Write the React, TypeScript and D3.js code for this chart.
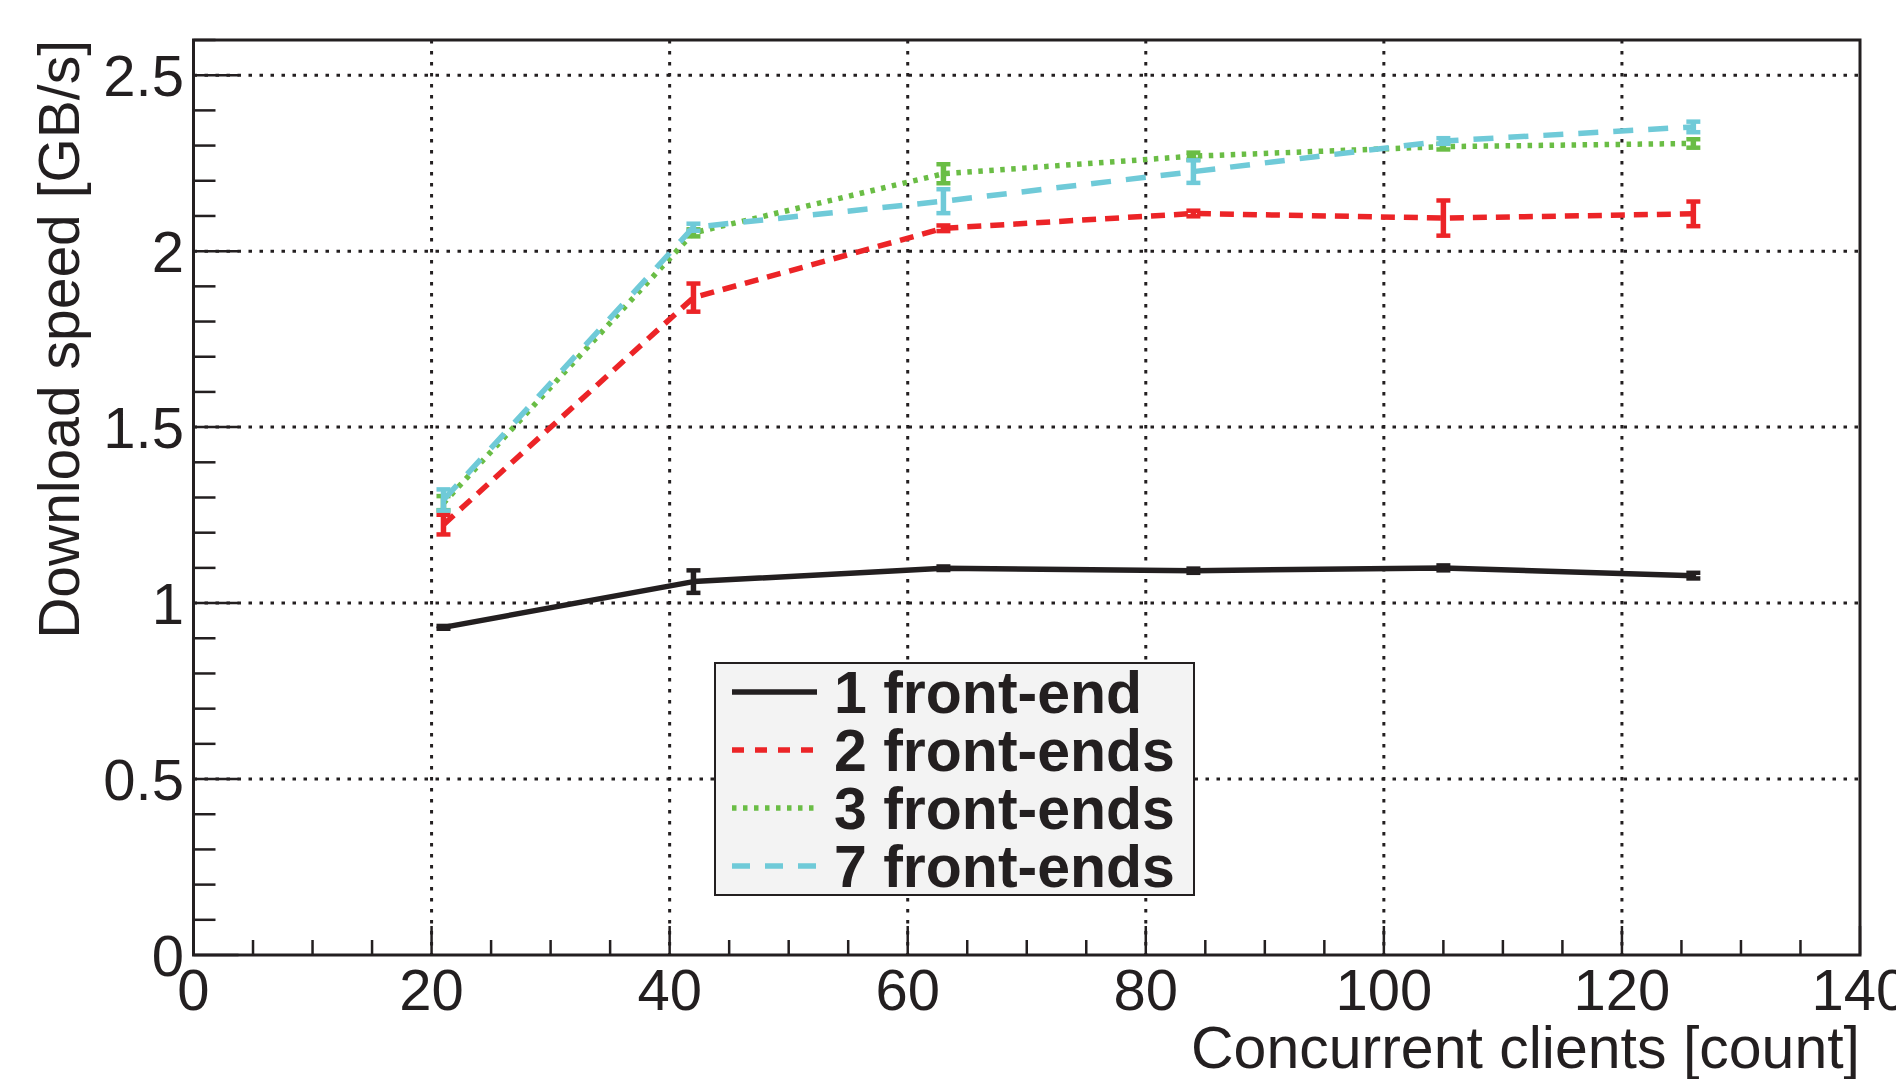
import React from 'react'
import * as d3 from 'd3'

// x positions (concurrent clients)
const CLIENTS = [21, 42, 63, 84, 105, 126]

// download speed [GB/s] per number of front-ends, with error half-widths
const FE1 = [0.931, 1.061, 1.099, 1.092, 1.1, 1.078]
const FE1_ERR = [0.004, 0.032, 0.005, 0.006, 0.007, 0.008]
const FE2 = [1.223, 1.868, 2.065, 2.107, 2.094, 2.106]
const FE2_ERR = [0.028, 0.04, 0.008, 0.008, 0.05, 0.035]
const FE3 = [1.284, 2.052, 2.22, 2.27, 2.297, 2.306]
const FE3_ERR = [0.02, 0.01, 0.027, 0.01, 0.008, 0.012]
const FE7 = [1.293, 2.068, 2.142, 2.226, 2.313, 2.353]
const FE7_ERR = [0.03, 0.01, 0.034, 0.032, 0.008, 0.015]

const X_TICKS = [0, 20, 40, 60, 80, 100, 120, 140]
const Y_TICKS = [0, 0.5, 1, 1.5, 2, 2.5]
const Y_TICK_LABELS = ['0', '0.5', '1', '1.5', '2', '2.5']

const SERIES = [
  { label: '1 front-end', values: FE1, errs: FE1_ERR, color: '#231f20', dash: null, legendDash: null },
  { label: '2 front-ends', values: FE2, errs: FE2_ERR, color: '#ec2427', dash: '14 9', legendDash: '12 11' },
  { label: '3 front-ends', values: FE3, errs: FE3_ERR, color: '#6abd45', dash: '4.5 6.5', legendDash: '4.5 6.5' },
  { label: '7 front-ends', values: FE7, errs: FE7_ERR, color: '#6fcad8', dash: '20 15', legendDash: '18 15' },
]

const W = 1896
const H = 1079
const pad = { l: 193.5, r: 1860, t: 40, b: 955 }
const FONT = '"Liberation Sans", Arial, Helvetica, sans-serif'
const INK = '#231f20'

export default function App() {
  const x = d3.scaleLinear().domain([0, 140]).range([pad.l, pad.r])
  const y = d3.scaleLinear().domain([0, 2.6]).range([pad.b, pad.t])

  const line = d3.line<number>()
    .x((_, i) => x(CLIENTS[i]))
    .y(d => y(d))

  const yMinor = d3.range(0, 2.6001, 0.1).map(v => +v.toFixed(2))
  const xMinor = d3.range(0, 140.001, 5)

  const legend = { x: 715, y: 663, w: 479, h: 232 }
  const rowH = legend.h / SERIES.length

  return (
    <div style={{ position: 'absolute', left: 0, top: 0 }}>
      <svg width={W} height={H} viewBox={`0 0 ${W} ${H}`} style={{ display: 'block', background: '#fff' }}>
        {/* grid */}
        {Y_TICKS.slice(1).map(v => (
          <line key={'gy' + v} x1={pad.l} x2={pad.r} y1={y(v)} y2={y(v)}
            stroke={INK} strokeWidth={3} strokeDasharray="3.5 7.5" />
        ))}
        {X_TICKS.slice(1, -1).map(v => (
          <line key={'gx' + v} x1={x(v)} x2={x(v)} y1={pad.t} y2={pad.b}
            stroke={INK} strokeWidth={3} strokeDasharray="3.5 7.5" />
        ))}

        {/* series */}
        {SERIES.map(s => (
          <g key={s.label}>
            <path d={line(s.values) || ''} fill="none" stroke={s.color} strokeWidth={5.5}
              strokeDasharray={s.dash || undefined} strokeLinejoin="round" />
            {s.values.map((v, i) => {
              const cx = x(CLIENTS[i])
              const y1 = y(v + s.errs[i])
              const y2 = y(v - s.errs[i])
              return (
                <g key={i} stroke={s.color} strokeWidth={5.5}>
                  <line x1={cx} x2={cx} y1={y1} y2={y2} />
                  <line x1={cx - 7} x2={cx + 7} y1={y1} y2={y1} strokeWidth={4.5} />
                  <line x1={cx - 7} x2={cx + 7} y1={y2} y2={y2} strokeWidth={4.5} />
                </g>
              )
            })}
          </g>
        ))}

        {/* legend */}
        <rect x={legend.x} y={legend.y} width={legend.w} height={legend.h}
          fill="#f3f3f3" stroke={INK} strokeWidth={2} />
        {SERIES.map((s, i) => {
          const cy = legend.y + rowH * (i + 0.5)
          return (
            <g key={'lg' + s.label}>
              <line x1={732} x2={817} y1={cy} y2={cy} stroke={s.color} strokeWidth={5.5}
                strokeDasharray={s.legendDash || undefined} />
              <text x={834} y={cy + 21} fontFamily={FONT} fontWeight="bold" fontSize={59} fill={INK}>
                {s.label}
              </text>
            </g>
          )
        })}

        {/* frame */}
        <rect x={pad.l} y={pad.t} width={pad.r - pad.l} height={pad.b - pad.t}
          fill="none" stroke={INK} strokeWidth={3} />

        {/* y ticks */}
        {yMinor.map(v => {
          const major = Math.abs(v * 2 - Math.round(v * 2)) < 1e-6
          return (
            <line key={'ty' + v} x1={pad.l} x2={pad.l + (major ? 45 : 22)} y1={y(v)} y2={y(v)}
              stroke={INK} strokeWidth={2.5} />
          )
        })}
        {Y_TICKS.map((v, i) => (
          <text key={'ly' + v} x={184} y={y(v) + 21} textAnchor="end"
            fontFamily={FONT} fontSize={58} fill={INK}>{Y_TICK_LABELS[i]}</text>
        ))}

        {/* x ticks */}
        {xMinor.map(v => {
          const major = v % 20 === 0
          return (
            <line key={'tx' + v} x1={x(v)} x2={x(v)} y1={pad.b} y2={pad.b - (major ? 29 : 15)}
              stroke={INK} strokeWidth={2.5} />
          )
        })}
        {X_TICKS.map(v => (
          <text key={'lx' + v} x={x(v)} y={1010} textAnchor="middle"
            fontFamily={FONT} fontSize={58} fill={INK}>{v}</text>
        ))}

        {/* axis titles */}
        <text x={pad.r} y={1068} textAnchor="end" fontFamily={FONT} fontSize={59} fill={INK}>
          Concurrent clients [count]
        </text>
        <text transform={`translate(79,${pad.t}) rotate(-90)`} textAnchor="end"
          fontFamily={FONT} fontSize={57} fill={INK}>
          Download speed [GB/s]
        </text>
      </svg>
    </div>
  )
}
